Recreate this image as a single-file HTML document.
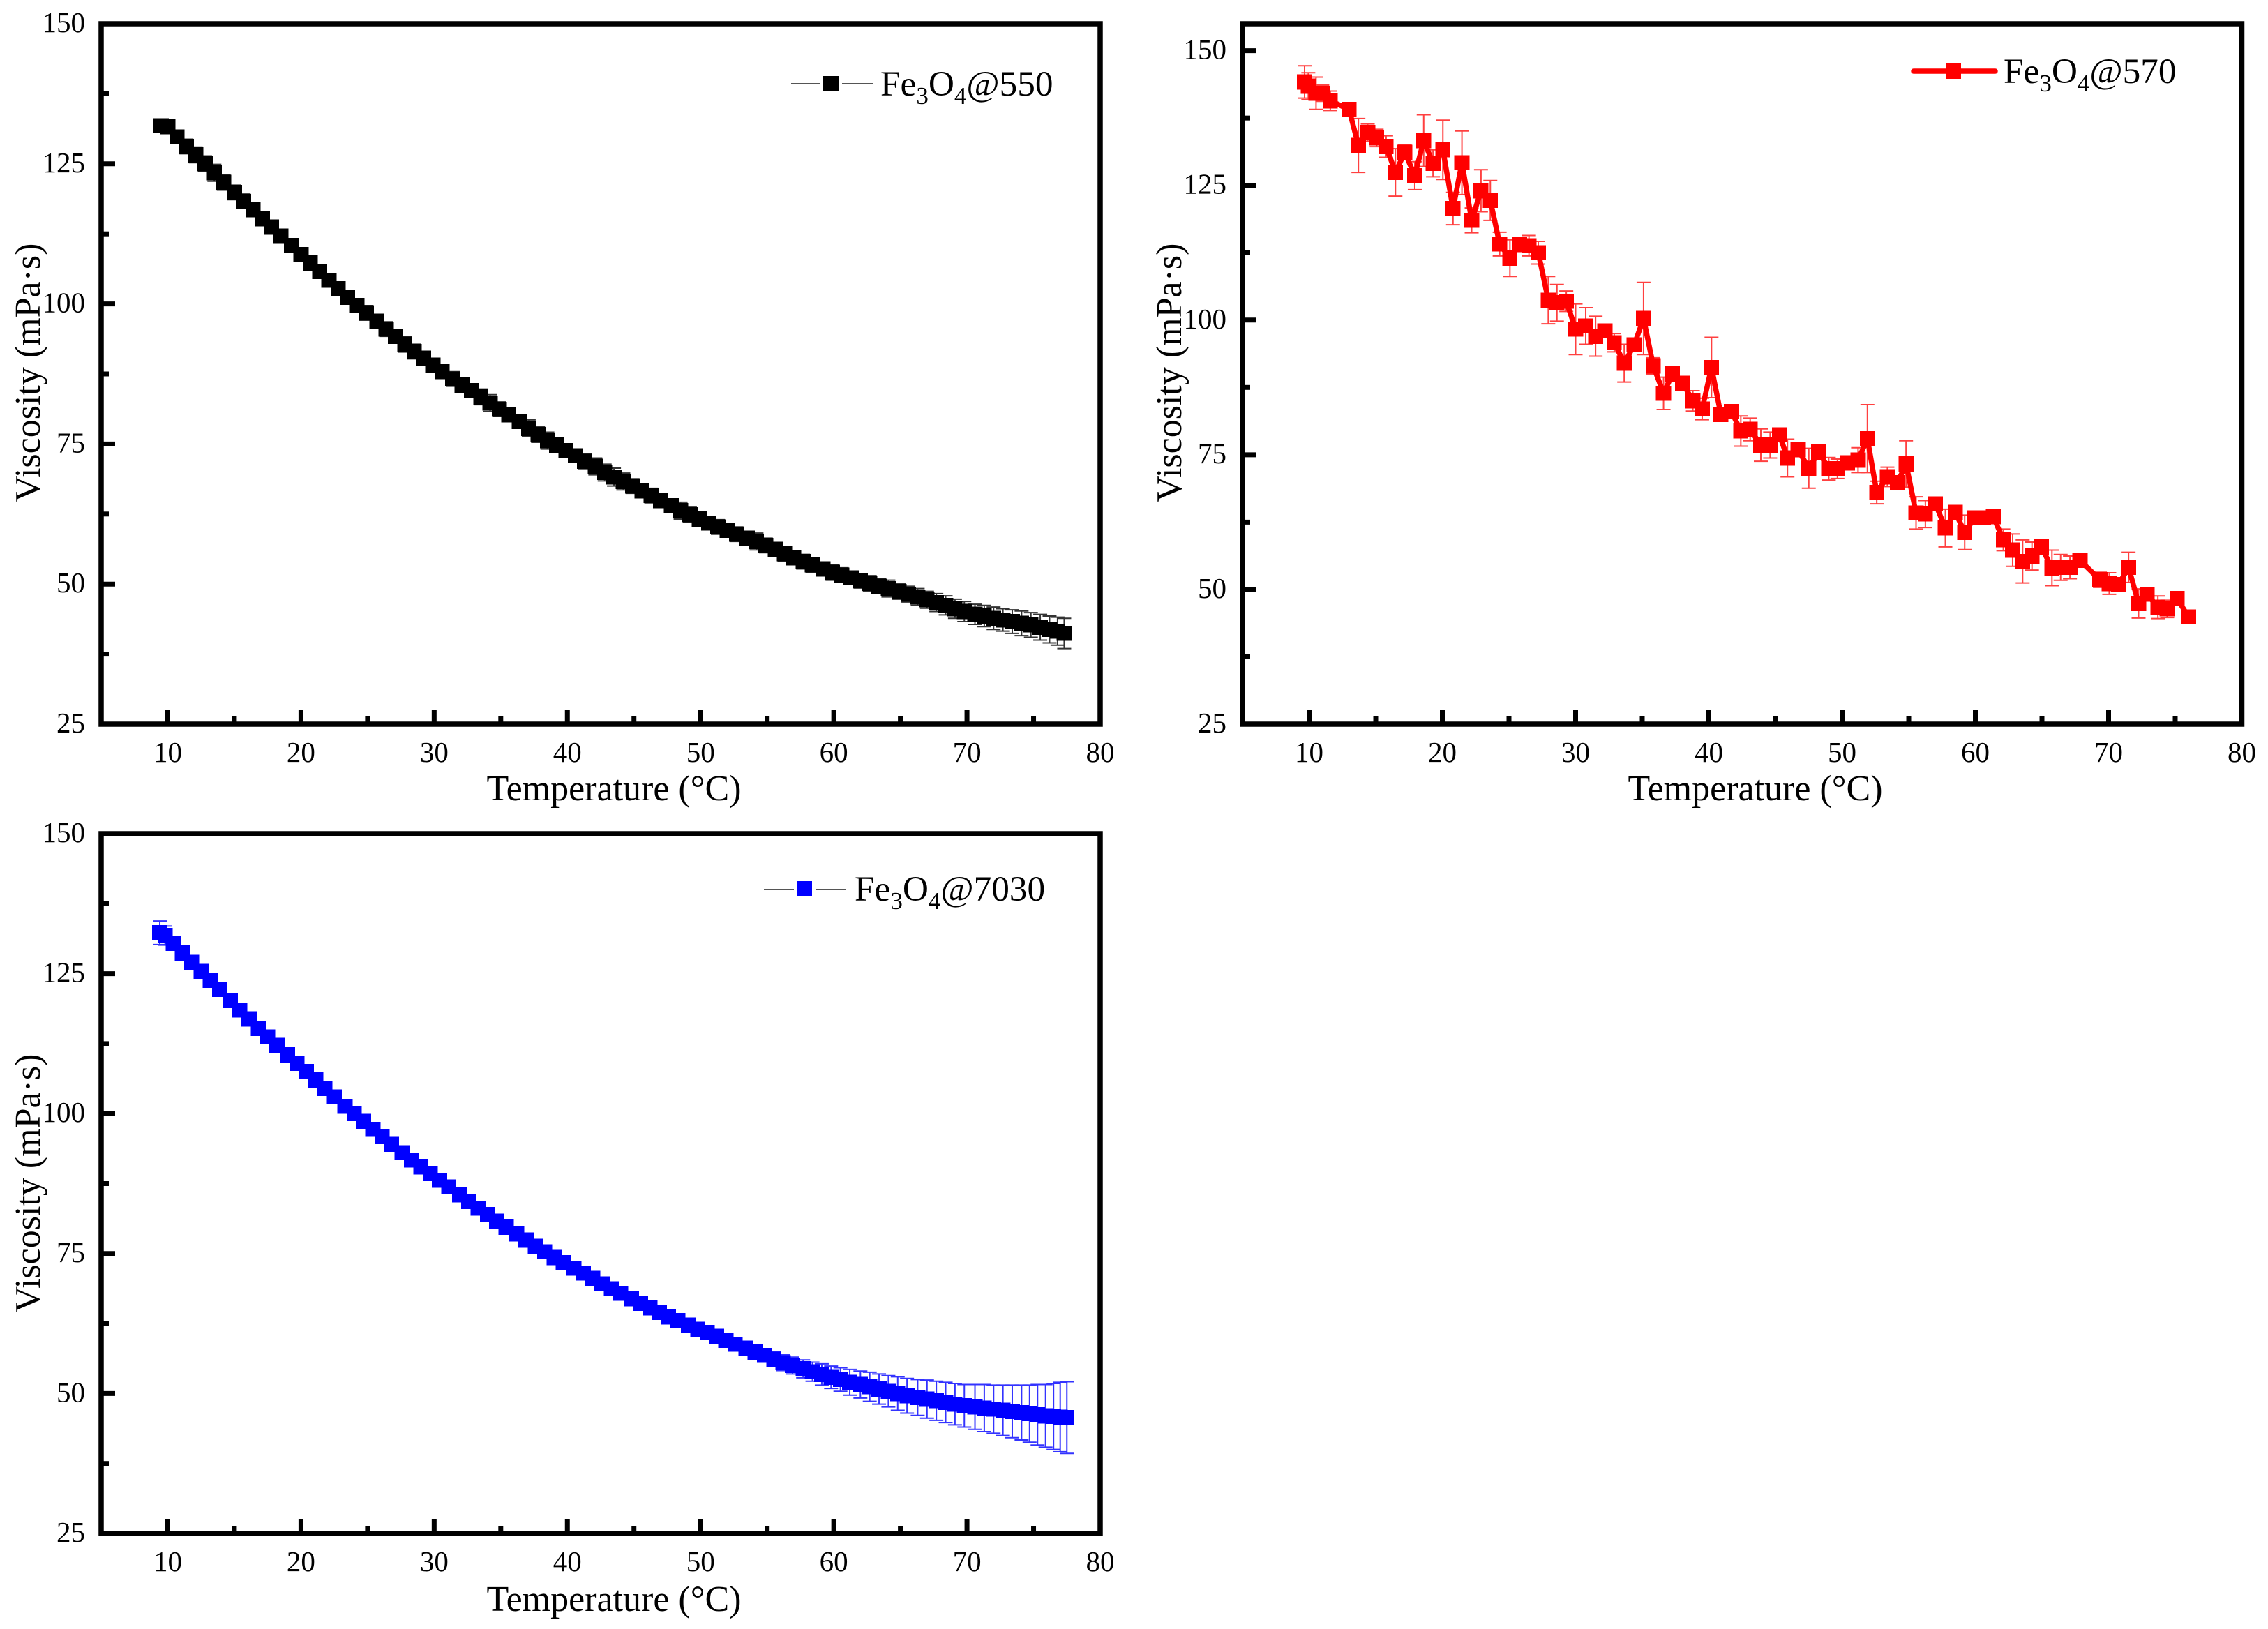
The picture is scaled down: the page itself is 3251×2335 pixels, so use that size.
<!DOCTYPE html>
<html lang="en">
<head>
<meta charset="utf-8">
<title>Viscosity vs Temperature</title>
<style>
html,body{margin:0;padding:0;background:#fff;}
svg{display:block;}
text{font-family:"Liberation Serif",serif;fill:#000;}
</style>
</head>
<body>
<svg id="figure" xmlns="http://www.w3.org/2000/svg" width="3251" height="2335" viewBox="0 0 3251 2335">
<rect x="0" y="0" width="3251" height="2335" fill="#fff"/>

<g>
<line x1="1134" x2="1176" y1="120" y2="120" stroke="#555" stroke-width="2"/>
<line x1="1207" x2="1252" y1="120" y2="120" stroke="#555" stroke-width="2"/>
<rect x="1180" y="109" width="22" height="22" fill="#000"/>
<text x="1262" y="137" font-size="51.3">Fe<tspan dy="12" font-size="35">3</tspan><tspan dy="-12">O</tspan><tspan dy="12" font-size="35">4</tspan><tspan dy="-12">@550</tspan></text>
</g>

<g>
<line x1="2743" x2="2860" y1="102" y2="102" stroke="#f00" stroke-width="7.5" stroke-linecap="round"/>
<rect x="2789" y="91" width="22" height="22" fill="#f00"/>
<text x="2872" y="119" font-size="51.3">Fe<tspan dy="12" font-size="35">3</tspan><tspan dy="-12">O</tspan><tspan dy="12" font-size="35">4</tspan><tspan dy="-12">@570</tspan></text>
</g>

<g>
<line x1="1095" x2="1138" y1="1275" y2="1275" stroke="#555" stroke-width="2"/>
<line x1="1169" x2="1212" y1="1275" y2="1275" stroke="#555" stroke-width="2"/>
<rect x="1142" y="1263" width="22" height="22" fill="#00f"/>
<text x="1225" y="1291" font-size="51.3">Fe<tspan dy="12" font-size="35">3</tspan><tspan dy="-12">O</tspan><tspan dy="12" font-size="35">4</tspan><tspan dy="-12">@7030</tspan></text>
</g>

<text x="880" y="1147" font-size="52" text-anchor="middle">Temperature (°C)</text>
<text x="2516" y="1147" font-size="52" text-anchor="middle">Temperature (°C)</text>
<text x="880" y="2309" font-size="52" text-anchor="middle">Temperature (°C)</text>
<text transform="translate(57,534) rotate(-90)" font-size="52" text-anchor="middle">Viscosity (mPa·s)</text>
<text transform="translate(1693,534) rotate(-90)" font-size="52" text-anchor="middle">Viscosity (mPa·s)</text>
<text transform="translate(57,1696) rotate(-90)" font-size="52" text-anchor="middle">Viscosity (mPa·s)</text>
</svg>

<script>
// Axis tick values
const xMajorTicks = [10, 20, 30, 40, 50, 60, 70, 80];
const xMinorTicks = [15, 25, 35, 45, 55, 65, 75];
const yMajorTicks = [25, 50, 75, 100, 125, 150];
const yMinorTicks = [37.5, 62.5, 87.5, 112.5, 137.5];

// Fe3O4@550
const temps550 = [
9.5,10.0,10.7,11.4,12.1,12.8,13.5,14.2,15.0,15.7,
16.4,17.1,17.8,18.5,19.3,20.0,20.7,21.4,22.1,22.8,
23.5,24.2,24.9,25.7,26.4,27.1,27.8,28.5,29.2,29.9,
30.6,31.4,32.1,32.8,33.5,34.2,34.9,35.6,36.4,37.1,
37.8,38.5,39.2,39.9,40.6,41.3,42.1,42.8,43.5,44.2,
44.9,45.6,46.3,47.0,47.8,48.5,49.2,49.9,50.6,51.3,
52.0,52.7,53.5,54.2,54.9,55.6,56.3,57.0,57.7,58.4,
59.2,59.9,60.6,61.3,62.0,62.7,63.4,64.1,64.9,65.6,
66.3,67.0,67.7,68.4,69.1,69.8,70.6,71.3,72.0,72.7,
73.4,74.1,74.8,75.5,76.2,76.8,77.3];
const visc550 = [
131.8,131.6,129.8,128.1,126.6,125.0,123.4,121.7,119.9,118.3,
116.8,115.2,113.7,112.1,110.4,108.8,107.3,105.8,104.2,102.7,
101.2,99.7,98.4,96.9,95.5,94.2,92.8,91.5,90.3,89.1,
87.9,86.6,85.5,84.5,83.4,82.3,81.2,80.2,79.0,77.8,
76.7,75.6,74.8,73.8,72.9,71.9,71.0,69.9,69.1,68.3,
67.5,66.6,65.8,64.9,64.0,63.1,62.4,61.6,60.9,60.2,
59.6,58.9,58.2,57.6,56.9,56.2,55.4,54.7,54.0,53.4,
52.7,52.1,51.6,51.1,50.6,50.1,49.6,49.2,48.7,48.2,
47.7,47.2,46.7,46.2,45.6,45.1,44.6,44.3,43.9,43.6,
43.3,43.0,42.7,42.3,41.9,41.6,41.2];
const err550 = [
1.0,1.0,1.2,1.3,1.4,1.4,1.5,1.4,1.3,1.3,
1.2,1.2,1.2,1.2,1.2,1.2,1.2,1.2,1.2,1.2,
1.2,1.2,1.3,1.2,1.3,1.2,1.4,1.3,1.2,1.2,
1.2,1.3,1.2,1.2,1.4,1.5,1.3,1.2,1.2,1.5,
1.4,1.5,1.3,1.2,1.2,1.3,1.5,1.5,1.6,1.5,
1.3,1.2,1.3,1.2,1.2,1.5,1.3,1.2,1.2,1.3,
1.2,1.3,1.2,1.5,1.3,1.2,1.3,1.2,1.3,1.3,
1.2,1.4,1.3,1.2,1.3,1.4,1.3,1.5,1.4,1.4,
1.5,1.5,1.6,1.7,1.7,1.8,1.8,1.9,2.0,2.0,
2.1,2.2,2.2,2.3,2.4,2.5,2.7];

// Fe3O4@570
const temps570 = [
9.66,9.94,10.52,10.99,11.59,13.0,13.7,14.4,15.07,15.78,
16.48,17.18,17.93,18.6,19.3,20.04,20.8,21.47,22.2,22.9,
23.6,24.3,25.07,25.8,26.5,27.2,27.95,28.6,29.3,30.0,
30.76,31.5,32.2,32.9,33.65,34.4,35.1,35.83,36.6,37.27,
38.04,38.8,39.5,40.2,40.9,41.7,42.4,43.1,43.9,44.6,
45.3,45.9,46.7,47.5,48.25,49.0,49.65,50.4,51.2,51.9,
52.6,53.4,54.15,54.8,55.55,56.25,57.0,57.75,58.5,59.2,
59.95,60.6,61.35,62.1,62.8,63.55,64.25,64.95,65.75,66.4,
67.1,67.85,69.35,70.05,70.75,71.5,72.25,72.9,73.7,74.4,
75.15,76.0];
const visc570 = [
144.2,143.4,142.1,142.1,140.7,139.1,132.4,134.8,133.8,132.2,
127.4,131.15,126.8,133.3,129.1,131.6,120.7,129.2,118.5,124.0,
122.2,114.1,111.5,114.0,113.8,112.5,103.7,103.2,103.5,98.3,
98.9,97.0,98.0,95.8,92.0,95.4,100.3,91.5,86.4,90.0,
88.3,85.0,83.5,91.2,82.5,83.0,79.4,79.7,76.8,76.8,
78.7,74.4,75.9,72.5,75.5,72.4,72.4,73.5,74.0,78.0,
68.0,70.9,69.8,73.3,64.2,64.0,65.9,61.4,64.3,60.6,
63.3,63.3,63.5,59.2,57.3,55.2,56.2,57.9,54.0,54.1,
54.1,55.4,51.8,51.1,50.9,54.1,47.4,49.1,46.7,46.4,
48.3,44.9];
const err570 = [
3.0,2.5,3.0,1.5,1.8,0.5,5.0,1.6,1.6,2.0,
4.4,1.4,2.6,4.8,2.5,5.5,3.0,5.9,2.3,3.9,
3.7,2.2,3.4,1.2,1.9,2.1,4.4,3.4,1.9,4.7,
3.4,3.7,1.0,1.7,3.5,1.0,6.7,1.5,3.0,1.0,
0.8,1.9,2.0,5.6,0.8,0.5,2.8,2.1,3.0,2.4,
0.8,3.5,0.8,3.7,0.8,2.1,1.8,0.6,2.3,6.3,
2.1,1.8,1.0,4.3,3.0,2.5,0.5,3.5,0.8,3.2,
0.6,0.5,1.0,2.0,3.0,4.0,2.6,0.5,3.3,2.4,
2.1,0.5,1.4,2.0,0.8,2.8,2.7,0.5,2.1,1.6,
0.5,0.3];

// Fe3O4@7030
const temps7030 = [
9.4,9.8,10.4,11.1,11.8,12.5,13.2,13.9,14.7,15.4,
16.1,16.8,17.5,18.2,19.0,19.7,20.4,21.1,21.8,22.5,
23.3,24.0,24.7,25.4,26.1,26.8,27.6,28.3,29.0,29.7,
30.4,31.1,31.9,32.6,33.3,34.0,34.7,35.4,36.2,36.9,
37.6,38.3,39.0,39.7,40.5,41.2,41.9,42.6,43.3,44.0,
44.8,45.5,46.2,46.9,47.6,48.3,49.1,49.8,50.5,51.2,
51.9,52.6,53.4,54.1,54.8,55.5,56.2,56.9,57.7,58.4,
59.1,59.8,60.5,61.2,62.0,62.7,63.4,64.1,64.8,65.5,
66.3,67.0,67.7,68.4,69.1,69.8,70.6,71.3,72.0,72.7,
73.4,74.1,74.7,75.3,75.9,76.5,77.0,77.5];
const visc7030 = [
132.3,131.8,130.4,128.7,127.0,125.4,123.8,122.2,120.2,118.5,
116.9,115.2,113.7,112.2,110.5,109.0,107.5,106.0,104.5,103.0,
101.3,100.0,98.6,97.2,95.9,94.5,93.0,91.7,90.5,89.3,
88.1,86.9,85.5,84.3,83.1,82.0,80.8,79.7,78.5,77.4,
76.3,75.3,74.3,73.4,72.4,71.5,70.6,69.6,68.7,67.9,
66.9,66.1,65.3,64.5,63.7,63.0,62.2,61.5,60.9,60.2,
59.5,58.8,58.1,57.4,56.8,56.1,55.5,55.0,54.4,53.9,
53.4,52.9,52.5,52.0,51.6,51.2,50.8,50.4,50.0,49.6,
49.3,49.0,48.7,48.4,48.1,47.8,47.6,47.4,47.2,47.0,
46.8,46.6,46.4,46.2,46.0,45.9,45.8,45.7];
const err7030 = [
2.1,1.7,1.0,1.0,1.0,1.0,1.0,1.0,1.0,1.0,
1.0,1.0,1.0,1.0,1.0,1.0,1.0,1.0,1.0,1.0,
1.0,1.0,1.0,1.0,1.0,1.0,1.0,1.0,1.0,1.0,
1.0,1.0,1.0,1.0,1.0,1.0,1.0,1.0,1.0,1.0,
1.0,1.0,1.0,1.0,1.0,1.0,1.0,1.0,1.0,1.0,
1.0,1.0,1.0,1.0,1.0,1.0,1.0,1.0,1.0,1.0,
1.0,1.0,1.1,1.1,1.2,1.3,1.4,1.5,1.6,1.7,
1.9,2.0,2.1,2.3,2.4,2.6,2.7,2.8,3.0,3.1,
3.2,3.4,3.5,3.6,3.7,3.8,4.0,4.2,4.3,4.5,
4.7,4.9,5.1,5.4,5.6,5.9,6.2,6.4];

const SVG_NS = 'http://www.w3.org/2000/svg';
const svg = document.getElementById('figure');

function makeXScale(frame) {
  return function (t) {
    return frame.left + (t - frame.xMin) * (frame.right - frame.left) / (frame.xMax - frame.xMin);
  };
}
function makeYScale(frame) {
  return function (v) {
    return frame.bottom - (v - frame.yMin) * (frame.bottom - frame.top) / (frame.yMax - frame.yMin);
  };
}
function svgEl(tag, parent) {
  const el = document.createElementNS(SVG_NS, tag);
  parent.appendChild(el);
  return el;
}
function drawTick(parent, x1, y1, x2, y2, width) {
  const el = svgEl('line', parent);
  
  
  el.setAttribute('x1', x1);
  el.setAttribute('y1', y1);
  el.setAttribute('x2', x2);
  el.setAttribute('y2', y2);
  el.setAttribute('stroke', '#000');
  el.setAttribute('stroke-width', width);
}
function drawLabel(parent, x, y, anchor, value) {
  const el = svgEl('text', parent);
  
  
  el.setAttribute('x', x);
  el.setAttribute('y', y);
  el.setAttribute('font-size', 41);
  el.setAttribute('text-anchor', anchor);
  el.textContent = String(value);
}

function drawPanel(frame, temps, visc, errs, style) {
  const sx = makeXScale(frame);
  const sy = makeYScale(frame);
  const g = svgEl('g', svg);
  
  

  // error bars
  temps.forEach(function (t, i) {
    const x = sx(t);
    const hi = sy(visc[i] + errs[i]);
    const lo = sy(visc[i] - errs[i]);
    const e = svgEl('path', g);
    
    
    e.setAttribute('d', 'M' + (x - 10) + ' ' + hi + 'H' + (x + 10) + 'M' + x + ' ' + hi + 'V' + lo + 'M' + (x - 10) + ' ' + lo + 'H' + (x + 10));
    e.setAttribute('fill', 'none');
    e.setAttribute('stroke', style.errColor);
    e.setAttribute('stroke-width', 2);
  });

  // connecting line
  const line = svgEl('polyline', g);
  
  
  line.setAttribute('points', temps.map(function (t, i) { return sx(t) + ',' + sy(visc[i]); }).join(' '));
  line.setAttribute('fill', 'none');
  line.setAttribute('stroke', style.lineColor);
  line.setAttribute('stroke-width', style.lineWidth);
  line.setAttribute('stroke-linejoin', 'round');

  // markers
  temps.forEach(function (t, i) {
    const m = svgEl('rect', g);
    
    
    m.setAttribute('x', sx(t) - 10.85);
    m.setAttribute('y', sy(visc[i]) - 10.85);
    m.setAttribute('width', 21.7);
    m.setAttribute('height', 21.7);
    m.setAttribute('fill', style.color);
    m.setAttribute('shape-rendering', 'crispEdges');
  });

  // frame and ticks
  const box = svgEl('rect', g);
  
  
  box.setAttribute('x', frame.left);
  box.setAttribute('y', frame.top);
  box.setAttribute('width', frame.right - frame.left);
  box.setAttribute('height', frame.bottom - frame.top);
  box.setAttribute('fill', 'none');
  box.setAttribute('stroke', '#000');
  box.setAttribute('stroke-width', 7.5);

  xMajorTicks.forEach(function (t) {
    if (t < frame.xMax) drawTick(g, sx(t), frame.bottom, sx(t), frame.bottom - 20, 7);
    drawLabel(g, sx(t), frame.bottom + 54, 'middle', t);
  });
  xMinorTicks.forEach(function (t) {
    drawTick(g, sx(t), frame.bottom, sx(t), frame.bottom - 11, 7);
  });
  yMajorTicks.forEach(function (v) {
    if (v > frame.yMin && v < frame.yMax) drawTick(g, frame.left, sy(v), frame.left + 20, sy(v), 7);
    drawLabel(g, frame.left - 23, sy(v) + 12, 'end', v);
  });
  yMinorTicks.forEach(function (v) {
    drawTick(g, frame.left, sy(v), frame.left + 11, sy(v), 7);
  });
}

drawPanel(
  { left: 145, right: 1577, top: 34, bottom: 1038, xMin: 5, xMax: 80, yMin: 25, yMax: 150 },
  temps550, visc550, err550,
  { name: 'panel-fe3o4-550', color: '#000', errColor: '#333', lineColor: '#555', lineWidth: 2 }
);
drawPanel(
  { left: 1781, right: 3213.5, top: 34, bottom: 1038, xMin: 5, xMax: 80, yMin: 25, yMax: 155 },
  temps570, visc570, err570,
  { name: 'panel-fe3o4-570', color: '#f00', errColor: '#ff4040', lineColor: '#f00', lineWidth: 7.5 }
);
drawPanel(
  { left: 145, right: 1577, top: 1195, bottom: 2198, xMin: 5, xMax: 80, yMin: 25, yMax: 150 },
  temps7030, visc7030, err7030,
  { name: 'panel-fe3o4-7030', color: '#00f', errColor: '#3333ff', lineColor: '#555', lineWidth: 2 }
);
</script>
</body>
</html>
